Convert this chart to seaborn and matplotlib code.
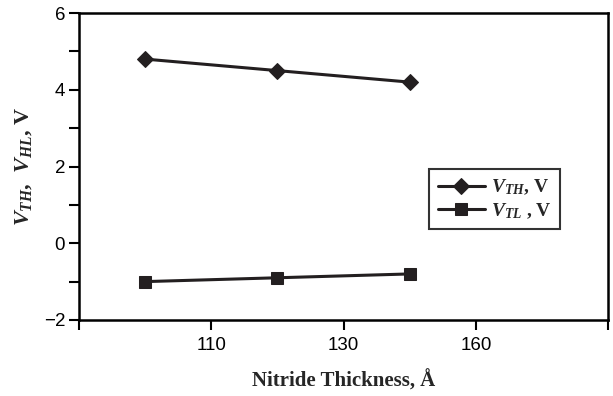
import matplotlib
matplotlib.use('Agg')
import matplotlib.pyplot as plt
import seaborn as sns

# Data
thickness_labels = ['110', '130', '160']
point_pos = [0.5, 1.5, 2.5]          # points sit between the category ticks
vth = [4.8, 4.5, 4.2]
vtl = [-1.0, -0.9, -0.8]

sns.set_theme(style='white')
plt.rcParams['font.family'] = ['Liberation Sans', 'DejaVu Sans']
plt.rcParams['mathtext.fontset'] = 'custom'
plt.rcParams['mathtext.it'] = 'Liberation Serif:italic:bold'
plt.rcParams['mathtext.bf'] = 'Liberation Serif:italic:bold'
plt.rcParams['mathtext.rm'] = 'Liberation Serif:bold'

col = '#231f20'
serif_bold = {'family': 'Liberation Serif', 'weight': 'bold'}

fig = plt.figure(figsize=(6.13, 3.96), dpi=100)
ax = fig.add_axes([0.129, 0.192, 0.863, 0.775])

sns.lineplot(x=point_pos, y=vth, marker='D', markersize=8, color=col, lw=2.2,
             markeredgecolor=col, label=r'$V_{TH}$, V', ax=ax)
sns.lineplot(x=point_pos, y=vtl, marker='s', markersize=9, color=col, lw=2.2,
             markeredgecolor=col, label=r'$V_{TL}$ , V', ax=ax)

ax.set_xlim(0, 4)
ax.set_ylim(-2, 6)
ax.set_xticks([0, 1, 2, 3, 4])
ax.set_xticklabels([''] + thickness_labels + [''])
ax.set_yticks([-2, 0, 2, 4, 6])
ax.set_yticklabels(['\u22122', '0', '2', '4', '6'])
ax.set_yticks([-1, 1, 3, 5], minor=True)
ax.tick_params(axis='both', which='both', direction='out', length=7, width=1.5,
               color='black', labelsize=13.5, colors='black')
ax.tick_params(axis='y', which='minor', left=True, length=7, width=1.5)
ax.tick_params(axis='x', bottom=True, pad=5)
ax.tick_params(axis='y', left=True, pad=3)
for s in ax.spines.values():
    s.set_color('black')
    s.set_linewidth(1.8)

ax.set_xlabel('Nitride Thickness, \u00c5', fontdict=serif_bold, fontsize=15, labelpad=12)
ax.set_ylabel(r'$V_{TH}$,  $V_{HL}$, V', fontdict=serif_bold, fontsize=16, labelpad=7)

leg = ax.legend(loc='upper left', bbox_to_anchor=(0.662, 0.492), borderaxespad=0,
                fancybox=False, frameon=True, edgecolor='black',
                prop={'family': 'Liberation Serif', 'weight': 'bold', 'size': 14},
                handlelength=2.4, borderpad=0.45, labelspacing=0.2, handletextpad=0.3)
leg.get_frame().set_linewidth(1.5)

fig.savefig('out.png', dpi=100)
